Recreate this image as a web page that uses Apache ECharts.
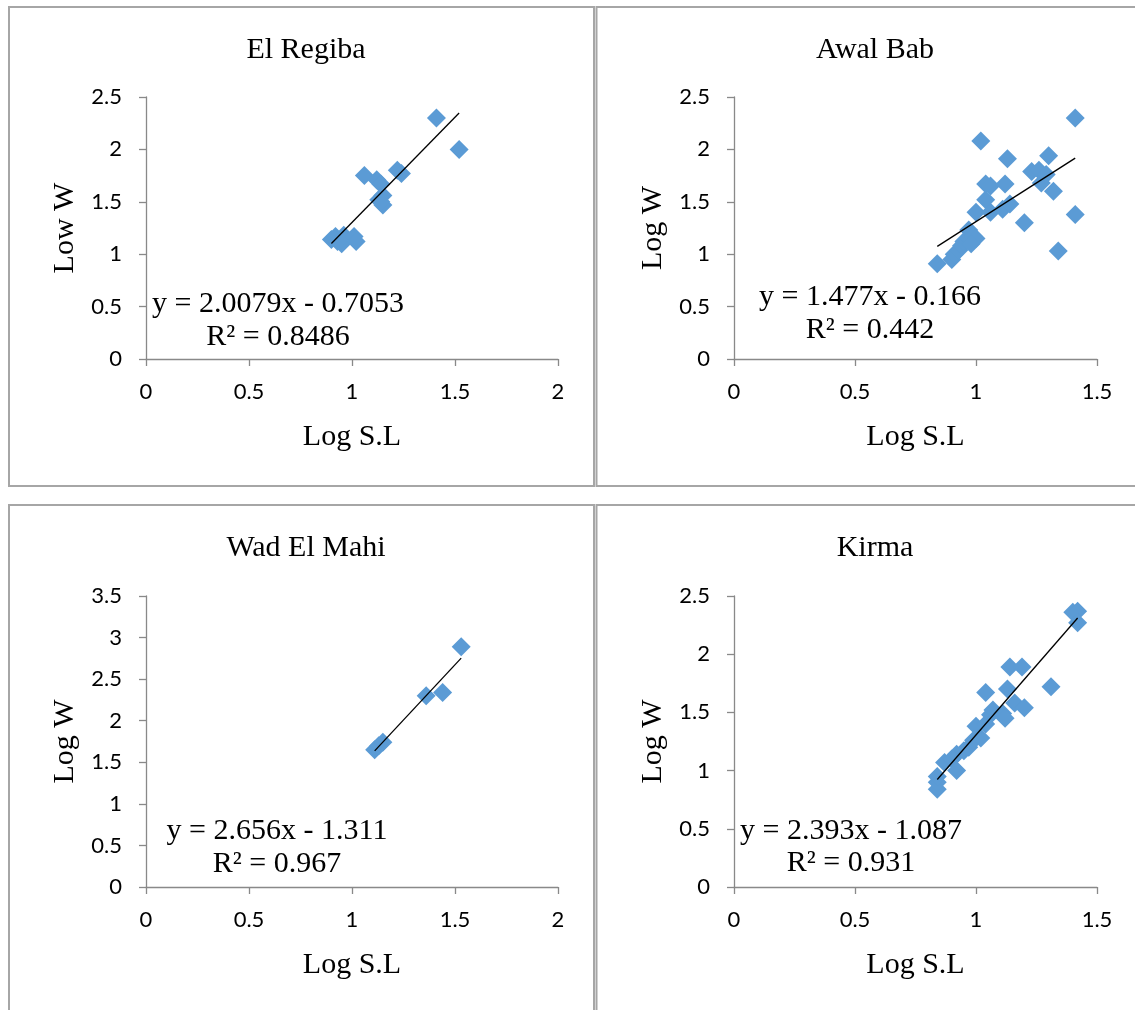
<!DOCTYPE html>
<html>
<head>
<meta charset="utf-8">
<script src="https://cdn.jsdelivr.net/npm/echarts@6/dist/echarts.min.js"></script>
<style>
html,body{margin:0;padding:0;background:#fff;}
#main{width:1135px;height:1010px;}
</style>
</head>
<body>
<div id="main"></div>
<script>
// ---- data ----
var titles = ['El Regiba', 'Awal Bab', 'Wad El Mahi', 'Kirma'];
var yNames = ['Low W', 'Log W', 'Log W', 'Log W'];
var xName = 'Log S.L';

var elRegiba = [
  [0.90,1.14],[0.92,1.17],[0.93,1.12],[0.95,1.10],[0.96,1.18],[1.01,1.17],[1.02,1.12],
  [1.06,1.75],[1.12,1.71],[1.14,1.67],[1.13,1.52],[1.15,1.56],[1.15,1.47],[1.14,1.50],
  [1.22,1.80],[1.24,1.77],[1.41,2.30],[1.52,2.00]
];
var awalBab = [
  [0.84,0.91],[0.90,0.95],[0.91,1.00],[0.93,1.04],[0.94,1.08],[0.95,1.12],[0.97,1.16],
  [0.97,1.23],[0.99,1.17],[1.00,1.15],[0.98,1.10],[1.00,1.40],[1.02,2.08],[1.04,1.52],
  [1.04,1.67],[1.06,1.65],[1.06,1.40],[1.11,1.43],[1.12,1.67],[1.13,1.91],[1.14,1.48],
  [1.20,1.30],[1.23,1.79],[1.26,1.80],[1.27,1.68],[1.29,1.76],[1.30,1.94],[1.32,1.60],
  [1.34,1.03],[1.41,2.30],[1.41,1.38]
];
var wadElMahi = [
  [1.11,1.65],[1.13,1.70],[1.15,1.74],[1.36,2.30],[1.44,2.34],[1.53,2.89]
];
var kirma = [
  [0.84,0.84],[0.84,0.90],[0.84,0.95],[0.87,1.07],[0.90,1.10],[0.92,1.00],[0.92,1.14],
  [0.95,1.17],[0.97,1.20],[0.99,1.26],[1.00,1.38],[1.02,1.28],[1.04,1.40],[1.04,1.67],
  [1.06,1.48],[1.07,1.52],[1.11,1.49],[1.13,1.70],[1.12,1.45],[1.14,1.89],[1.16,1.58],
  [1.19,1.89],[1.20,1.54],[1.31,1.72],[1.40,2.36],[1.42,2.37],[1.42,2.27]
];
var slopes = [2.0079, 1.477, 2.656, 2.393];
var intercepts = [-0.7053, -0.166, -1.311, -1.087];
var eqTexts = ['y = 2.0079x - 0.7053', 'y = 1.477x - 0.166', 'y = 2.656x - 1.311', 'y = 2.393x - 1.087'];
var r2Texts = ['R² = 0.8486', 'R² = 0.442', 'R² = 0.967', 'R² = 0.931'];
var xMax = [2, 1.5, 2, 1.5];
var yMax = [2.5, 2.5, 3.5, 2.5];

var datasets = [elRegiba, awalBab, wadElMahi, kirma];

// ---- layout ----
var grids = [
  {left:146, top:97, width:412, height:262},
  {left:734, top:97, width:363, height:262},
  {left:146, top:596, width:412, height:291},
  {left:734, top:596, width:363, height:291}
];
var titlePos = [[301,30],[870,30],[301,528],[870,528]];
var eqPos = [[278,304,337],[870,297,330],[277,831,864],[851,831,863]];

var serif = '"Liberation Serif","Times New Roman",serif';
var sans = 'Lato,"Open Sans",sans-serif';
var axisGray = '#898989';

var option = {
  backgroundColor:'#fff',
  animation:false,
  title: titles.map(function(t,i){
    return {text:t, left:titlePos[i][0], top:titlePos[i][1], textAlign:'center',
      textStyle:{fontFamily:serif, fontSize:30, fontWeight:'normal', color:'#000'}};
  }),
  grid: grids,
  xAxis: grids.map(function(g,i){
    return {type:'value', gridIndex:i, min:0, max:xMax[i], interval:0.5,
      name:xName, nameLocation:'middle', nameGap:63,
      nameTextStyle:{fontFamily:serif, fontSize:30, color:'#000'},
      axisLine:{show:true, onZero:false, lineStyle:{color:axisGray, width:1.3}},
      axisTick:{show:true, inside:false, length:7, lineStyle:{color:axisGray, width:1.3}},
      axisLabel:{fontFamily:sans, fontSize:22, color:'#000', margin:22},
      splitLine:{show:false}};
  }),
  yAxis: grids.map(function(g,i){
    return {type:'value', gridIndex:i, min:0, max:yMax[i], interval:0.5,
      name:yNames[i], nameLocation:'middle', nameGap:66, nameRotate:90,
      nameTextStyle:{fontFamily:serif, fontSize:30, color:'#000'},
      axisLine:{show:true, onZero:false, lineStyle:{color:axisGray, width:1.3}},
      axisTick:{show:true, inside:false, length:7, lineStyle:{color:axisGray, width:1.3}},
      axisLabel:{fontFamily:sans, fontSize:22, color:'#000', margin:24},
      splitLine:{show:false}};
  }),
  series: [],
  graphic: []
};

datasets.forEach(function(d,i){
  var xs = d.map(function(p){return p[0];});
  var x0 = Math.min.apply(null, xs), x1 = Math.max.apply(null, xs);
  option.series.push({type:'scatter', xAxisIndex:i, yAxisIndex:i, data:d,
    symbol:'diamond', symbolSize:19, itemStyle:{color:'#5B9BD5', opacity:1}, z:2});
  option.series.push({type:'line', xAxisIndex:i, yAxisIndex:i,
    data:[[x0, slopes[i]*x0+intercepts[i]],[x1, slopes[i]*x1+intercepts[i]]],
    symbol:'none', lineStyle:{color:'#000', width:1.3}, z:3, silent:true});
  option.graphic.push({type:'text', x:eqPos[i][0], y:eqPos[i][1],
    style:{text:eqTexts[i], font:'30px '+serif, fill:'#000', align:'center', verticalAlign:'middle'}, z:10});
  option.graphic.push({type:'text', x:eqPos[i][0], y:eqPos[i][2],
    style:{text:r2Texts[i], font:'30px '+serif, fill:'#000', align:'center', verticalAlign:'middle'}, z:10});
});

// panel borders
var border = {stroke:'#a6a6a6', lineWidth:2, fill:null};
[[9,7,585,479],[596.5,7,620,479],[9,505,585,540],[596.5,505,620,540]].forEach(function(r){
  option.graphic.push({type:'rect', shape:{x:r[0], y:r[1], width:r[2], height:r[3]},
    style:border, silent:true, z:0});
});

var chart = echarts.init(document.getElementById('main'));
chart.setOption(option);
</script>
</body>
</html>
